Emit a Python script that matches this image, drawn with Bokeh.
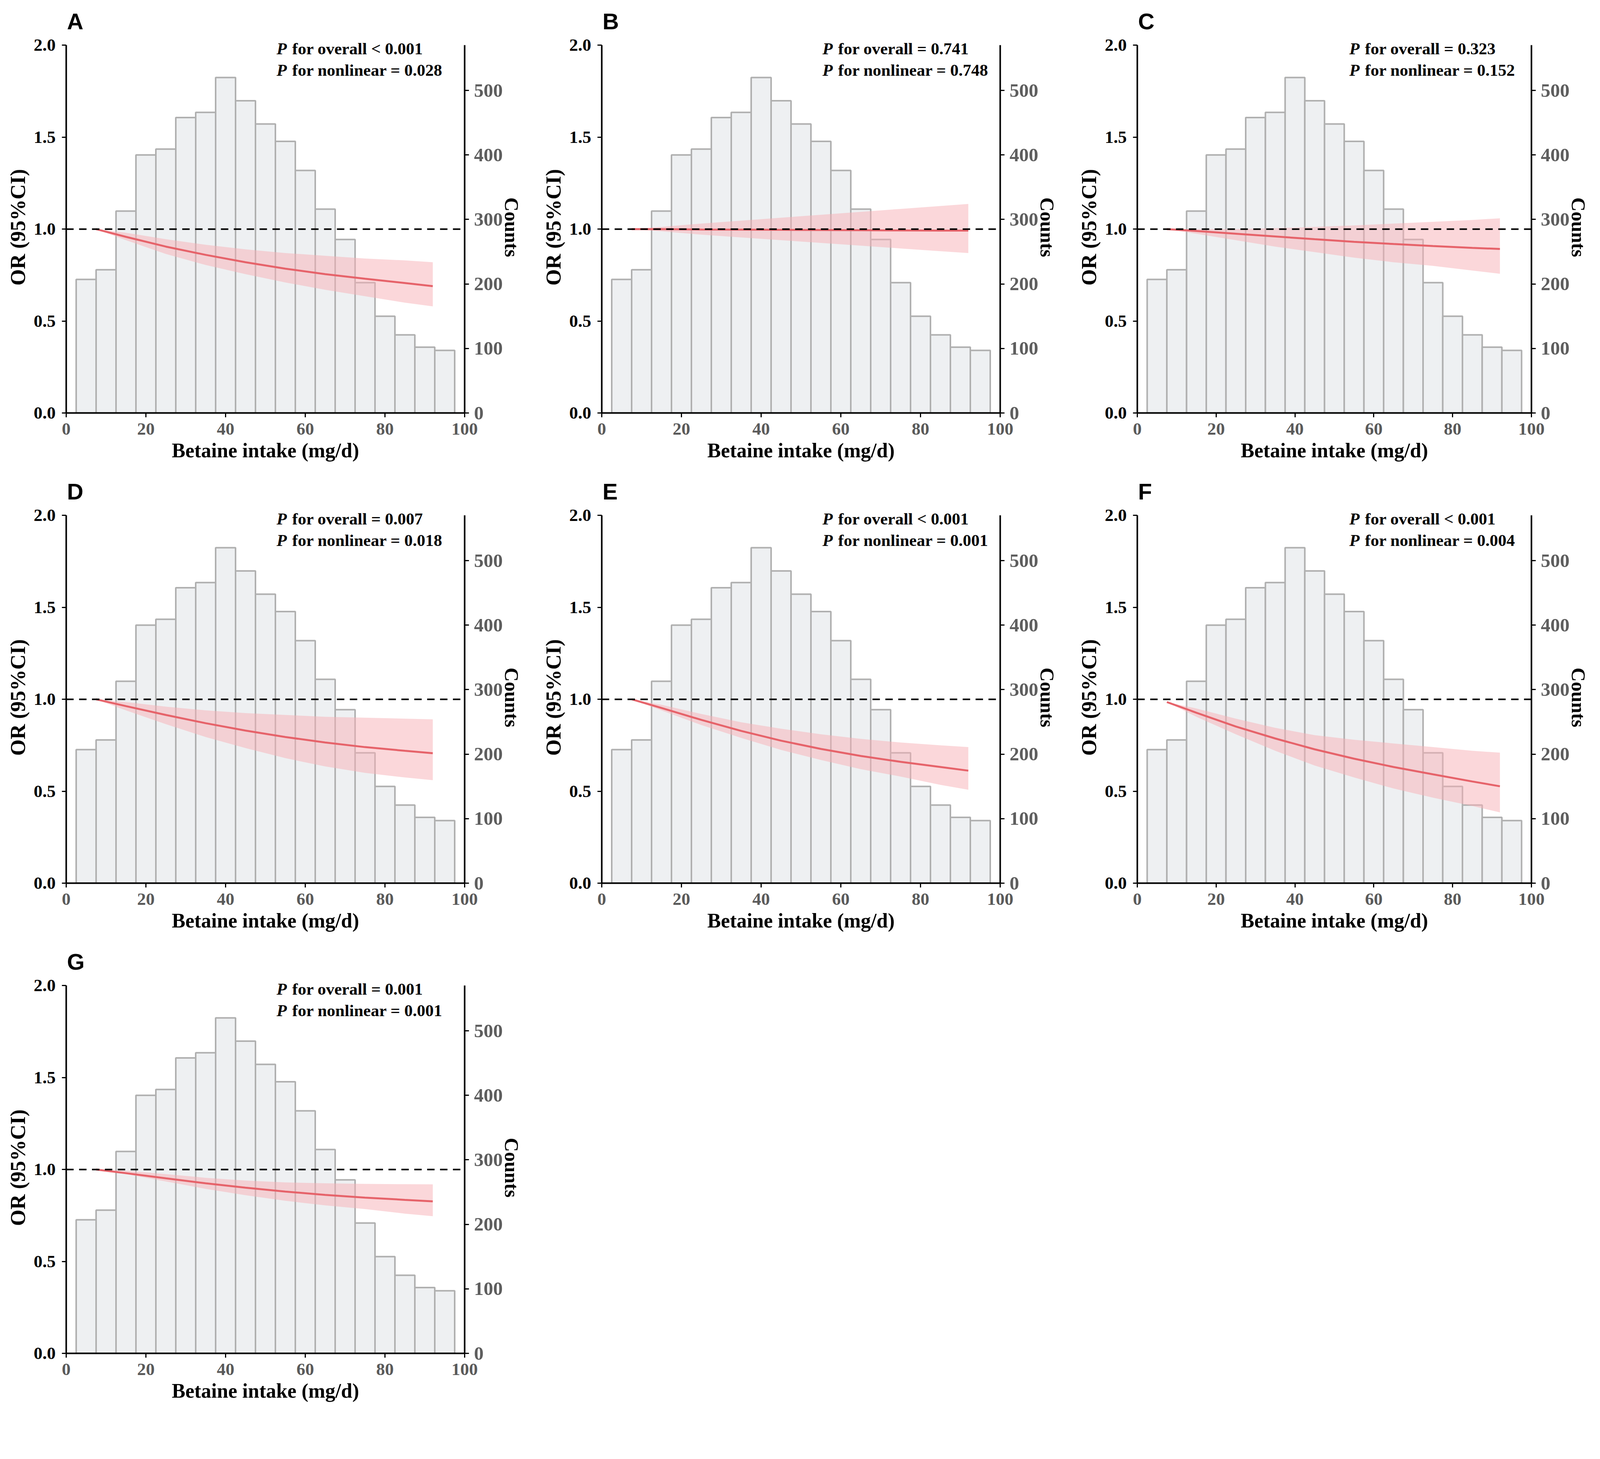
from bokeh.plotting import figure
from bokeh.models import Range1d, LinearAxis, Label, FixedTicker, Span, NumeralTickFormatter
from bokeh.layouts import row, column
from bokeh.embed import file_html
from bokeh.resources import INLINE

# ---------------- data ----------------
bin_edges = [2.5, 7.5, 12.5, 17.5, 22.5, 27.5, 32.5, 37.5, 42.5, 47.5,
             52.5, 57.5, 62.5, 67.5, 72.5, 77.5, 82.5, 87.5, 92.5, 97.5]
counts = [207, 222, 313, 400, 409, 458, 466, 520, 484, 448,
          421, 376, 316, 269, 202, 150, 121, 102, 97]

x_curve = [7.5, 15, 25, 35, 45, 55, 65, 75, 85, 92]

or_A = [1.0, 0.958, 0.905, 0.86, 0.82, 0.785, 0.755, 0.73, 0.707, 0.69]
hi_A = [1.0, 0.98, 0.945, 0.915, 0.89, 0.87, 0.855, 0.84, 0.83, 0.82]
lo_A = [1.0, 0.94, 0.865, 0.805, 0.755, 0.71, 0.67, 0.635, 0.60, 0.58]

or_B = [1.0, 1.0, 0.998, 0.997, 0.996, 0.995, 0.994, 0.993, 0.992, 0.992]
hi_B = [1.0, 1.012, 1.03, 1.046, 1.062, 1.078, 1.094, 1.11, 1.126, 1.137]
lo_B = [1.0, 0.988, 0.97, 0.955, 0.94, 0.925, 0.91, 0.895, 0.88, 0.87]

or_C = [1.0, 0.99, 0.975, 0.96, 0.945, 0.931, 0.919, 0.908, 0.898, 0.892]
hi_C = [1.0, 1.0, 1.0, 1.005, 1.012, 1.02, 1.03, 1.04, 1.05, 1.059]
lo_C = [1.0, 0.975, 0.94, 0.905, 0.875, 0.845, 0.82, 0.80, 0.775, 0.757]

or_D = [1.0, 0.963, 0.915, 0.87, 0.83, 0.795, 0.765, 0.74, 0.72, 0.707]
hi_D = [1.0, 0.985, 0.96, 0.94, 0.925, 0.915, 0.905, 0.90, 0.895, 0.891]
lo_D = [1.0, 0.94, 0.865, 0.795, 0.735, 0.68, 0.635, 0.60, 0.575, 0.56]

or_E = [1.0, 0.953, 0.888, 0.828, 0.775, 0.73, 0.692, 0.66, 0.632, 0.612]
hi_E = [1.0, 0.97, 0.92, 0.875, 0.84, 0.81, 0.785, 0.765, 0.75, 0.74]
lo_E = [1.0, 0.94, 0.86, 0.79, 0.725, 0.67, 0.62, 0.58, 0.535, 0.508]

or_F = [0.985, 0.927, 0.852, 0.787, 0.728, 0.677, 0.632, 0.592, 0.553, 0.527]
hi_F = [0.985, 0.95, 0.895, 0.845, 0.805, 0.78, 0.76, 0.74, 0.72, 0.71]
lo_F = [0.985, 0.905, 0.81, 0.72, 0.64, 0.575, 0.515, 0.465, 0.42, 0.385]

or_G = [1.0, 0.98, 0.952, 0.925, 0.901, 0.88, 0.862, 0.847, 0.835, 0.827]
hi_G = [1.0, 0.993, 0.975, 0.955, 0.94, 0.93, 0.925, 0.922, 0.92, 0.919]
lo_G = [1.0, 0.975, 0.935, 0.895, 0.86, 0.83, 0.805, 0.785, 0.76, 0.746]

panel_letters = ["A", "B", "C", "D", "E", "F", "G"]
p_overall = ["< 0.001", "= 0.741", "= 0.323", "= 0.007", "< 0.001", "< 0.001", "= 0.001"]
p_nonlinear = ["= 0.028", "= 0.748", "= 0.152", "= 0.018", "= 0.001", "= 0.004", "= 0.001"]

or_ticks = [0, 0.5, 1.0, 1.5, 2.0]
count_ticks = [0, 100, 200, 300, 400, 500]
x_ticks = [0, 20, 40, 60, 80, 100]

# ---------------- style ----------------
K = 0.971


def px(v):
    return int(round(v * K))


def fs(v):
    return "%dpx" % px(v)


SERIF = "Liberation Serif"
SANS = "Liberation Sans"
OR_MAX = 2.0
COUNT_MAX = 570
HEADROOM = 1.01          # small room above the axes so the annotations are not clipped
FRAME_W = px(1050)
FRAME_H = px(972 * HEADROOM)
LEFT = px(174)
TOP = px(117 - 972 * (HEADROOM - 1))
TEXT_X = [52.8, 55.4, 53.8, 52.8, 55.4, 53.8, 52.8]


def style_axis(ax, label_color, size=46):
    ax.axis_line_width = px(4)
    ax.axis_line_color = "black"
    ax.major_tick_line_width = px(3)
    ax.major_tick_line_color = "black"
    ax.major_tick_out = px(11)
    ax.major_tick_in = 0
    ax.minor_tick_line_color = None
    ax.major_label_text_font = SERIF
    ax.major_label_text_font_style = "bold"
    ax.major_label_text_font_size = fs(size)
    ax.major_label_text_color = label_color
    ax.axis_label_text_font = SERIF
    ax.axis_label_text_font_style = "bold"
    ax.axis_label_text_color = "black"


def make_panel(i, orv, lov, hiv, width, height):
    p = figure(width=width, height=height,
               x_range=Range1d(0, 100), y_range=Range1d(0, OR_MAX * HEADROOM),
               output_backend="svg", toolbar_location=None,
               min_border_left=LEFT, min_border_top=TOP,
               min_border_right=width - LEFT - FRAME_W,
               min_border_bottom=height - TOP - FRAME_H)
    p.outline_line_color = None
    p.grid.visible = False
    p.background_fill_color = "white"
    p.border_fill_color = "white"

    p.extra_y_ranges = {"counts": Range1d(0, COUNT_MAX * HEADROOM)}

    # histogram
    p.quad(left=bin_edges[:-1], right=bin_edges[1:], bottom=0, top=counts,
           y_range_name="counts", fill_color="#eef0f2",
           line_color="#b0b0b0", line_width=px(4))

    # confidence band and curve
    p.varea(x=x_curve, y1=lov, y2=hiv, fill_color="#f8b0b6", fill_alpha=0.5)
    p.line(x=x_curve, y=orv, line_color="#e6636a", line_width=px(5))

    p.add_layout(Span(location=1.0, dimension="width", line_color="black",
                      line_width=px(4), line_dash="19 14"))

    # axes
    p.yaxis.ticker = FixedTicker(ticks=or_ticks)
    p.yaxis.formatter = NumeralTickFormatter(format="0.0")
    p.yaxis.bounds = (0, OR_MAX)
    p.yaxis.axis_label = "OR (95%CI)"
    style_axis(p.yaxis[0], "black")
    p.yaxis.axis_label_text_font_size = fs(56)
    p.yaxis.major_label_standoff = px(16)
    p.yaxis.axis_label_standoff = px(7)

    p.xaxis.ticker = FixedTicker(ticks=x_ticks)
    p.xaxis.axis_label = "Betaine intake (mg/d)"
    style_axis(p.xaxis[0], "#5a5a5a")
    p.xaxis.axis_label_text_font_size = fs(54)
    p.xaxis.major_label_standoff = px(15)
    p.xaxis.axis_label_standoff = px(9)

    ra = LinearAxis(y_range_name="counts", ticker=FixedTicker(ticks=count_ticks),
                    axis_label="Counts", bounds=(0, COUNT_MAX))
    style_axis(ra, "#5e5e5e", size=50)
    ra.axis_label_text_font_size = fs(52)
    ra.major_label_standoff = px(13)
    ra.axis_label_standoff = -px(8)
    p.add_layout(ra, "right")

    # panel letter
    p.title.text = panel_letters[i]
    p.title.text_font = SANS
    p.title.text_font_style = "bold"
    p.title.text_font_size = fs(60)
    p.title.text_color = "black"
    p.title.align = "left"
    p.title.offset = 2
    p.title.standoff = px(40)

    # P-value annotations
    for yv, txt in ((1.982, "for overall " + p_overall[i]),
                    (1.866, "for nonlinear " + p_nonlinear[i])):
        p.add_layout(Label(x=TEXT_X[i], y=yv, text="P", text_font=SERIF,
                           text_font_style="bold italic", text_font_size=fs(44),
                           text_baseline="middle", text_color="black"))
        p.add_layout(Label(x=TEXT_X[i], y=yv, x_offset=px(41), text=txt, text_font=SERIF,
                           text_font_style="bold", text_font_size=fs(44),
                           text_baseline="middle", text_color="black"))
    return p


series = [(or_A, lo_A, hi_A), (or_B, lo_B, hi_B), (or_C, lo_C, hi_C),
          (or_D, lo_D, hi_D), (or_E, lo_E, hi_E), (or_F, lo_F, hi_F),
          (or_G, lo_G, hi_G)]
col_w = [px(1412), px(1412), px(1370)]
row_h = [px(1240), px(1240), px(1240)]

panels = []
for i, (o, l, h) in enumerate(series):
    panels.append(make_panel(i, o, l, h, col_w[i % 3], row_h[i // 3]))

layout = column(row(panels[0], panels[1], panels[2]),
                row(panels[3], panels[4], panels[5]),
                row(panels[6]))

open("out.html", "w").write(file_html(layout, INLINE))
